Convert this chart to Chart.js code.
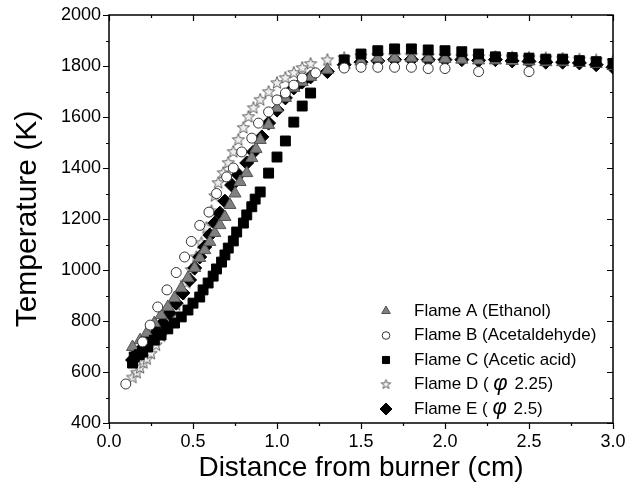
<!DOCTYPE html>
<html lang="en">
<head>
<meta charset="UTF-8">
<title>Temperature profiles</title>
<script src="https://cdn.jsdelivr.net/npm/chart.js"></script>
<style>
  body { margin: 0; background: #fff; }
  canvas { display: block; }
</style>
</head>
<body>
<canvas id="chart" width="626" height="486"></canvas>
<script>
// values: distance (cm) and temperature (K)
const xTickLabels = ['0.0', '0.5', '1.0', '1.5', '2.0', '2.5', '3.0'];
const yTickLabels = [400, 600, 800, 1000, 1200, 1400, 1600, 1800, 2000];

const flameA_x = [0.14, 0.185, 0.225, 0.27, 0.31, 0.35, 0.39, 0.43, 0.47, 0.51, 0.54, 0.57, 0.60, 0.63, 0.66, 0.69, 0.72, 0.75, 0.78, 0.82, 0.85, 0.875, 0.90, 0.95, 1.00, 1.05, 1.10, 1.15, 1.20, 1.30, 1.40, 1.50, 1.60, 1.70, 1.80, 1.90, 2.00, 2.10, 2.20, 2.30, 2.40, 2.50, 2.60, 2.70, 2.80, 2.90, 3.00];
const flameA_T = [698, 725, 753, 792, 823, 855, 890, 929, 969, 1008, 1047, 1078, 1110, 1145, 1176, 1208, 1255, 1300, 1345, 1380, 1439, 1475, 1510, 1569, 1635, 1675, 1714, 1737, 1757, 1785, 1805, 1818, 1830, 1832, 1832, 1830, 1828, 1825, 1822, 1822, 1820, 1818, 1815, 1815, 1812, 1808, 1800];

const flameB_x = [0.10, 0.20, 0.245, 0.29, 0.345, 0.40, 0.45, 0.49, 0.54, 0.595, 0.64, 0.70, 0.74, 0.79, 0.85, 0.89, 0.95, 1.00, 1.05, 1.10, 1.15, 1.23, 1.40, 1.50, 1.60, 1.70, 1.80, 1.90, 2.00, 2.20, 2.50];
const flameB_T = [553, 718, 784, 855, 922, 990, 1051, 1112, 1175, 1227, 1300, 1365, 1400, 1463, 1517, 1576, 1620, 1667, 1694, 1725, 1753, 1773, 1792, 1795, 1795, 1795, 1795, 1790, 1790, 1778, 1778];

const flameC_x = [0.14, 0.15, 0.18, 0.20, 0.23, 0.27, 0.31, 0.35, 0.39, 0.43, 0.47, 0.50, 0.54, 0.56, 0.59, 0.62, 0.64, 0.67, 0.69, 0.71, 0.74, 0.76, 0.80, 0.82, 0.85, 0.87, 0.90, 0.95, 1.00, 1.05, 1.10, 1.15, 1.20, 1.40, 1.50, 1.60, 1.70, 1.80, 1.90, 2.00, 2.10, 2.20, 2.30, 2.40, 2.50, 2.60, 2.70, 2.80, 2.90, 3.00];
const flameC_T = [635, 659, 668, 678, 698, 725, 745, 769, 792, 816, 843, 870, 894, 922, 949, 976, 1004, 1031, 1059, 1086, 1114, 1149, 1184, 1216, 1248, 1278, 1306, 1380, 1443, 1506, 1580, 1643, 1694, 1824, 1847, 1860, 1867, 1867, 1863, 1860, 1856, 1847, 1836, 1833, 1831, 1827, 1827, 1821, 1817, 1810];

const flameD_x = [0.14, 0.165, 0.185, 0.205, 0.225, 0.25, 0.28, 0.31, 0.34, 0.37, 0.40, 0.43, 0.46, 0.49, 0.52, 0.55, 0.58, 0.61, 0.63, 0.65, 0.68, 0.71, 0.74, 0.77, 0.80, 0.83, 0.86, 0.90, 0.95, 1.00, 1.05, 1.10, 1.15, 1.20, 1.30, 1.40, 1.50, 1.60, 1.70, 1.80, 1.90, 2.00, 2.10, 2.20, 2.30, 2.40, 2.50, 2.60, 2.70, 2.80, 2.90, 3.00];
const flameD_T = [578, 597, 616, 635, 650, 672, 705, 740, 778, 820, 862, 905, 950, 1000, 1050, 1105, 1165, 1230, 1290, 1341, 1380, 1420, 1463, 1510, 1557, 1600, 1635, 1667, 1698, 1733, 1753, 1773, 1792, 1808, 1823, 1831, 1838, 1840, 1840, 1840, 1838, 1838, 1836, 1835, 1835, 1833, 1832, 1830, 1828, 1825, 1822, 1818];

const flameE_x = [0.14, 0.17, 0.20, 0.24, 0.285, 0.32, 0.36, 0.40, 0.44, 0.48, 0.51, 0.54, 0.57, 0.60, 0.63, 0.66, 0.69, 0.73, 0.77, 0.82, 0.86, 0.91, 0.95, 1.00, 1.05, 1.10, 1.15, 1.20, 1.30, 1.40, 1.50, 1.60, 1.70, 1.80, 1.90, 2.00, 2.10, 2.20, 2.30, 2.40, 2.50, 2.60, 2.70, 2.80, 2.90, 3.00];
const flameE_T = [647, 675, 694, 725, 757, 792, 831, 870, 910, 961, 1008, 1051, 1090, 1137, 1184, 1223, 1270, 1333, 1373, 1420, 1463, 1522, 1576, 1627, 1675, 1714, 1737, 1757, 1778, 1805, 1815, 1820, 1825, 1825, 1825, 1825, 1825, 1822, 1825, 1820, 1818, 1815, 1815, 1812, 1805, 1795];

const FONT = "'Liberation Sans', Arial, sans-serif";

function pts(xs, ys) {
    return xs.map((v, i) => ({ x: v, y: ys[i] }));
}

// five-point star marker (Chart.js 'star' is an asterisk)
function starImage(r) {
    const c = document.createElement('canvas');
    const s = Math.ceil(r * 2 + 3);
    c.width = s; c.height = s;
    const g = c.getContext('2d');
    g.beginPath();
    for (let i = 0; i < 10; i++) {
        const rr = i % 2 === 0 ? r : r * 0.42;
        const a = -Math.PI / 2 + i * Math.PI / 5;
        g.lineTo(s / 2 + rr * Math.cos(a), s / 2 + rr * Math.sin(a));
    }
    g.closePath();
    g.fillStyle = '#eeeeee';
    g.fill();
    g.strokeStyle = '#606060';
    g.lineWidth = 1;
    g.stroke();
    return c;
}
const starBig = starImage(6.5);
const starSmall = starImage(5);

const legendItems = [
    { text: ['Flame A (Ethanol)'], style: 'triangle', r: 5, fill: '#808080', stroke: '#505050' },
    { text: ['Flame B (Acetaldehyde)'], style: 'circle', r: 3.8, fill: '#ffffff', stroke: '#333333' },
    { text: ['Flame C (Acetic acid)'], style: 'rect', r: 5, fill: '#000000', stroke: '#000000' },
    { text: ['Flame D ( ', 'φ', ' 2.25)'], style: starSmall, r: 5, fill: '#eee', stroke: '#666' },
    { text: ['Flame E ( ', 'φ', ' 2.5)'], style: 'rectRot', r: 6, fill: '#000000', stroke: '#000000' }
];

const isMajorX = v => Math.abs(v * 2 - Math.round(v * 2)) < 1e-6;
const isMajorY = v => v % 200 === 0;

const framePlugin = {
    id: 'frame',
    afterDraw(chart) {
        const { ctx, chartArea: a, scales: { x, y } } = chart;
        ctx.save();
        ctx.strokeStyle = '#000';
        ctx.lineWidth = 1.5;
        ctx.strokeRect(a.left, a.top, a.right - a.left, a.bottom - a.top);
        ctx.lineWidth = 1.2;
        ctx.beginPath();
        x.ticks.forEach(t => {
            const px = Math.round(x.getPixelForValue(t.value)) + 0.5;
            const len = isMajorX(t.value) ? 6 : 3;
            ctx.moveTo(px, a.bottom); ctx.lineTo(px, a.bottom + len);
            ctx.moveTo(px, a.top); ctx.lineTo(px, a.top + len);
        });
        y.ticks.forEach(t => {
            const py = Math.round(y.getPixelForValue(t.value)) + 0.5;
            const len = isMajorY(t.value) ? 6 : 3;
            ctx.moveTo(a.left, py); ctx.lineTo(a.left - len, py);
            ctx.moveTo(a.right, py); ctx.lineTo(a.right - len, py);
        });
        ctx.stroke();

        // legend, lower right inside the plot
        const mx = 386, tx = 414;
        legendItems.forEach((it, i) => {
            const cy = 311 + i * 24.5;
            ctx.fillStyle = it.fill;
            ctx.strokeStyle = it.stroke;
            ctx.lineWidth = 1;
            Chart.helpers.drawPoint(ctx, { pointStyle: it.style, radius: it.r, rotation: 0, borderWidth: 1 }, mx, cy);
            ctx.fillStyle = '#000';
            ctx.textBaseline = 'middle';
            let cx = tx;
            it.text.forEach((s, j) => {
                ctx.font = j === 1 ? 'italic 22px ' + FONT : '17px ' + FONT;
                ctx.fillText(s, cx, j === 1 ? cy - 1 : cy);
                cx += ctx.measureText(s).width + (j === 1 ? 2 : 0);
            });
        });
        ctx.restore();
    }
};

new Chart(document.getElementById('chart'), {
    type: 'scatter',
    data: {
        datasets: [
            { label: 'Flame B (Acetaldehyde)', data: pts(flameB_x, flameB_T), order: 1,
              pointStyle: 'circle', pointRadius: 5, backgroundColor: '#ffffff', borderColor: '#333333', borderWidth: 1 },
            { label: 'Flame C (Acetic acid)', data: pts(flameC_x, flameC_T), order: 2,
              pointStyle: 'rect', pointRadius: 7, backgroundColor: '#000000', borderColor: '#000000', borderWidth: 1 },
            { label: 'Flame A (Ethanol)', data: pts(flameA_x, flameA_T), order: 3,
              pointStyle: 'triangle', pointRadius: 7, backgroundColor: '#808080', borderColor: '#555555', borderWidth: 1 },
            { label: 'Flame E (φ 2.5)', data: pts(flameE_x, flameE_T), order: 4,
              pointStyle: 'rectRot', pointRadius: 7, backgroundColor: '#000000', borderColor: '#000000', borderWidth: 1 },
            { label: 'Flame D (φ 2.25)', data: pts(flameD_x, flameD_T), order: 5,
              pointStyle: starBig, pointRadius: 7 }
        ]
    },
    options: {
        responsive: false,
        animation: false,
        events: [],
        layout: { padding: { left: 0, top: 15, right: 13, bottom: 0 } },
        plugins: { legend: { display: false }, tooltip: { enabled: false } },
        scales: {
            x: {
                type: 'linear',
                min: parseFloat(xTickLabels[0]),
                max: parseFloat(xTickLabels[xTickLabels.length - 1]),
                grid: { display: false, drawTicks: false },
                border: { display: false },
                afterFit: s => { s.height = 486 - 423; s.paddingLeft = 0; s.paddingRight = 0; },
                ticks: {
                    stepSize: 0.25, autoSkip: false, maxRotation: 0, padding: 8,
                    color: '#000', font: { family: FONT, size: 18 },
                    callback: v => isMajorX(v) ? v.toFixed(1) : ''
                },
                title: {
                    display: true, text: 'Distance from burner (cm)', color: '#000',
                    font: { family: FONT, size: 28 }, padding: { top: 0, bottom: 1 }
                }
            },
            y: {
                type: 'linear',
                min: yTickLabels[0],
                max: yTickLabels[yTickLabels.length - 1],
                grid: { display: false, drawTicks: false },
                border: { display: false },
                afterFit: s => { s.width = 109; s.paddingTop = 0; s.paddingBottom = 0; },
                ticks: {
                    stepSize: 100, autoSkip: false, padding: 8,
                    color: '#000', font: { family: FONT, size: 18 },
                    callback: v => isMajorY(v) ? String(v) : ''
                },
                title: {
                    display: true, text: 'Temperature (K)', color: '#000',
                    font: { family: FONT, size: 30 }, padding: { top: 10, bottom: 0 }
                }
            }
        }
    },
    plugins: [framePlugin]
});
</script>
</body>
</html>
